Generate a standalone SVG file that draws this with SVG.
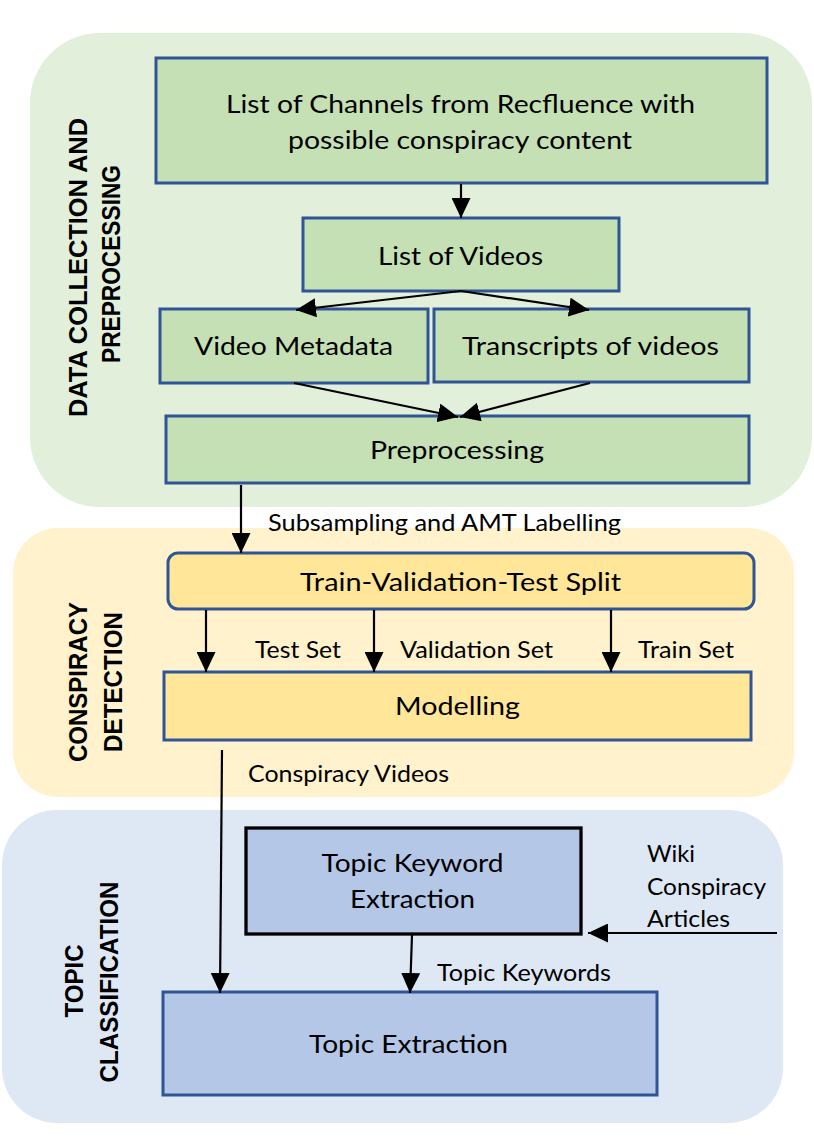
<svg xmlns="http://www.w3.org/2000/svg" width="814" height="1142" viewBox="0 0 814 1142">
<style>
.t{font-family:Lato,"Open Sans","Liberation Sans",sans-serif;font-size:25px;fill:#000;text-anchor:middle}
.s{font-family:Lato,"Open Sans","Liberation Sans",sans-serif;font-size:24px;fill:#000}
.v{font-family:"Liberation Sans",Arial,sans-serif;font-weight:bold;font-size:25px;fill:#000;text-anchor:middle}
.g{fill:#c5e0b4;stroke:#2f5597;stroke-width:3}
.y{fill:#ffe699;stroke:#2f5597;stroke-width:3}
.b{fill:#b4c7e7;stroke:#2f5597;stroke-width:3}
.c{stroke:#000;stroke-width:2.2;fill:none;marker-end:url(#ah)}
</style>
<defs>
<marker id="ah" markerUnits="userSpaceOnUse" markerWidth="20" markerHeight="19" refX="20" refY="9.5" orient="auto">
<path d="M0,0 L20,9.5 L0,19 z" fill="#000"/>
</marker>
</defs>
<g id="panels">
<rect x="30" y="33" width="782" height="474" rx="70" ry="70" fill="#e2efda"/>
<rect x="13" y="528" width="781" height="269" rx="45" ry="45" fill="#fff2cc"/>
<rect x="2" y="810" width="781" height="313" rx="55" ry="55" fill="#dee8f5"/>
</g>
<g id="panel-labels">
<text class="v" transform="translate(87,267.5) rotate(-90)" textLength="299" lengthAdjust="spacingAndGlyphs">DATA COLLECTION AND</text>
<text class="v" transform="translate(120,264) rotate(-90)" textLength="198" lengthAdjust="spacingAndGlyphs">PREPROCESSING</text>
<text class="v" transform="translate(87,682) rotate(-90)" textLength="160" lengthAdjust="spacingAndGlyphs">CONSPIRACY</text>
<text class="v" transform="translate(122,682) rotate(-90)" textLength="140" lengthAdjust="spacingAndGlyphs">DETECTION</text>
<text class="v" transform="translate(83,981) rotate(-90)" textLength="73" lengthAdjust="spacingAndGlyphs">TOPIC</text>
<text class="v" transform="translate(118,982) rotate(-90)" textLength="201" lengthAdjust="spacingAndGlyphs">CLASSIFICATION</text>
</g>
<g id="channels">
<rect class="g" x="156" y="58" width="611" height="125"/>
<text class="t" x="460.5" y="113" textLength="469" lengthAdjust="spacingAndGlyphs">List of Channels from Recfluence with</text>
<text class="t" x="460" y="149" textLength="344" lengthAdjust="spacingAndGlyphs">possible conspiracy content</text>
</g>
<g id="videos">
<rect class="g" x="303" y="218" width="316" height="73"/>
<text class="t" x="460.5" y="265" textLength="165" lengthAdjust="spacingAndGlyphs">List of Videos</text>
</g>
<g id="metadata">
<rect class="g" x="160" y="309" width="268" height="74"/>
<text class="t" x="293.5" y="355" textLength="199" lengthAdjust="spacingAndGlyphs">Video Metadata</text>
</g>
<g id="transcripts">
<rect class="g" x="434" y="309" width="315" height="73"/>
<text class="t" x="590.5" y="355" textLength="257" lengthAdjust="spacingAndGlyphs">Transcripts of videos</text>
</g>
<g id="preprocessing">
<rect class="g" x="166" y="416" width="583" height="67"/>
<text class="t" x="457" y="459" textLength="174" lengthAdjust="spacingAndGlyphs">Preprocessing</text>
</g>
<g id="split">
<rect class="y" x="168" y="553" width="586" height="56" rx="10" ry="10"/>
<text class="t" x="460.5" y="591" textLength="321" lengthAdjust="spacingAndGlyphs">Train-Validation-Test Split</text>
</g>
<g id="modelling">
<rect class="y" x="164" y="672" width="587" height="68"/>
<text class="t" x="457.5" y="715" textLength="125" lengthAdjust="spacingAndGlyphs">Modelling</text>
</g>
<g id="keyword-extraction">
<rect x="246" y="828" width="335" height="106" fill="#b4c7e7" stroke="#000" stroke-width="3.3"/>
<text class="t" x="412.5" y="872" textLength="182" lengthAdjust="spacingAndGlyphs">Topic Keyword</text>
<text class="t" x="412.5" y="908" textLength="125" lengthAdjust="spacingAndGlyphs">Extraction</text>
</g>
<g id="topic-extraction">
<rect class="b" x="163" y="992" width="494" height="103"/>
<text class="t" x="408.5" y="1053" textLength="199" lengthAdjust="spacingAndGlyphs">Topic Extraction</text>
</g>
<g id="wiki">
<text class="s" x="647" y="862" textLength="48" lengthAdjust="spacingAndGlyphs">Wiki</text>
<text class="s" x="647" y="895" textLength="119" lengthAdjust="spacingAndGlyphs">Conspiracy</text>
<text class="s" x="647" y="927" textLength="83" lengthAdjust="spacingAndGlyphs">Articles</text>
</g>
<g id="connectors">
<line class="c" x1="461" y1="184" x2="461" y2="218"/>
<line class="c" x1="461" y1="291" x2="296" y2="310"/>
<line class="c" x1="461" y1="291" x2="589" y2="310"/>
<line class="c" x1="294" y1="383" x2="458" y2="417"/>
<line class="c" x1="590" y1="383" x2="460" y2="417"/>
<line class="c" x1="241" y1="485" x2="241" y2="553"/>
<line class="c" x1="206" y1="610" x2="206" y2="672"/>
<line class="c" x1="374" y1="610" x2="374" y2="672"/>
<line class="c" x1="611" y1="610" x2="611" y2="672"/>
<line class="c" x1="222" y1="750" x2="220" y2="993"/>
<line class="c" x1="412" y1="935" x2="410" y2="993"/>
<line class="c" x1="777" y1="933" x2="588" y2="933"/>
<text class="s" x="268" y="531" textLength="353" lengthAdjust="spacingAndGlyphs">Subsampling and AMT Labelling</text>
<text class="s" x="255" y="658" textLength="86" lengthAdjust="spacingAndGlyphs">Test Set</text>
<text class="s" x="400" y="658" textLength="153" lengthAdjust="spacingAndGlyphs">Validation Set</text>
<text class="s" x="638" y="658" textLength="96" lengthAdjust="spacingAndGlyphs">Train Set</text>
<text class="s" x="248" y="782" textLength="201" lengthAdjust="spacingAndGlyphs">Conspiracy Videos</text>
<text class="s" x="437" y="981" textLength="174" lengthAdjust="spacingAndGlyphs">Topic Keywords</text>
</g>
</svg>
